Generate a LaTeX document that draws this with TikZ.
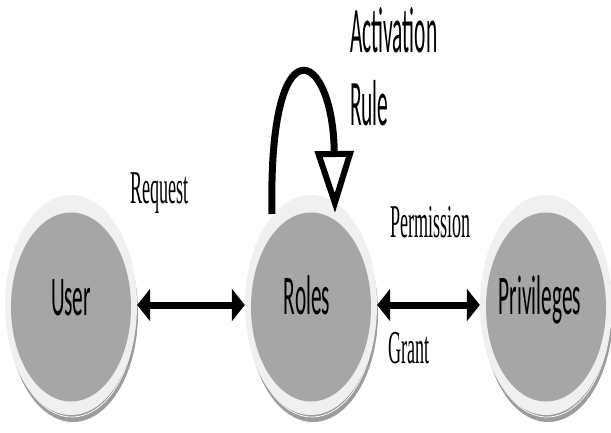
\documentclass[tikz,border=0pt]{standalone}
\usepackage{fontspec}
\usetikzlibrary{arrows.meta, shapes.geometric}
\newfontfamily\boxfont{Carlito}
\newfontfamily\notefont{Liberation Serif}
\definecolor{ringgray}{HTML}{F0F0F0}
\definecolor{diskgray}{HTML}{A6A6A6}
\definecolor{shadegray}{HTML}{9C9C9C}

\tikzset{
 ring/.style={ellipse, fill=ringgray, minimum width=132pt, minimum height=220pt, inner sep=0pt},
 disk/.style={ellipse, fill=diskgray, minimum width=120pt, minimum height=189pt, inner sep=0pt},
 shade/.style={ellipse, fill=shadegray, minimum width=130pt, minimum height=218pt, inner sep=0pt},
 gleam/.style={ellipse, draw=white, line width=0.7pt, minimum width=128pt, minimum height=216pt, inner sep=0pt},
 boxname/.style={font=\boxfont\fontsize{56}{56}\selectfont, xscale=0.38, inner sep=0pt, anchor=base},
 rulename/.style={font=\boxfont\fontsize{65}{65}\selectfont, xscale=0.33, inner sep=0pt, anchor=base west},
 note/.style={font=\notefont\fontsize{47}{47}\selectfont, xscale=0.385, inner sep=0pt, anchor=base west},
 link/.style={line width=7pt, {Triangle[length=13pt, width=32pt]}-{Triangle[length=13pt, width=32pt]}}
}

\begin{document}
\begin{tikzpicture}[x=1pt, y=-1pt]
 \useasboundingbox (0,0) rectangle (611,432);

 % shadows under the rings
 \node[shade] at (73,313) {};
 \node[shade] at (313,313) {};
 \node[shade] at (548,313) {};
 \node[gleam] at (72,309) {};
 \node[gleam] at (312,309) {};
 \node[gleam] at (547,309) {};

 % the three rings
 \node[ring] (user) at (71,305) {};
 \node[ring] (roles) at (311,305) {};
 \node[ring] (priv) at (546,305) {};
 \node[disk] at (71,307) {};
 \node[disk] at (311,307) {};
 \node[disk] at (546,307) {};

 \node[boxname] (usertext) at (71,315) {User};
 \node[boxname] (rolestext) at (307,314) {Roles};
 \node[boxname] (privtext) at (540,314) {Privileges};

 % links
 \draw[link] (user) -- (roles);
 \draw[link] (roles) -- (priv);

 \coordinate (loopout) at (272,214);
 \coordinate (loopin) at (335,213);
 \draw[line width=7pt, -{Triangle[open, length=62pt, width=38pt, line width=6pt, fill=white]}]
 (loopout) .. controls (268,18) and (333,48) .. (loopin);

 \node[rulename] (acttext) at (350,52) {Activation};
 \node[rulename] (ruletext) at (350,125) {Rule};
 \node[note] (reqtext) at (130,203) {Request};
 \node[note] (permtext) at (390,237) {Permission};
 \node[note] (granttext) at (388,363) {Grant};
\end{tikzpicture}
\end{document}
